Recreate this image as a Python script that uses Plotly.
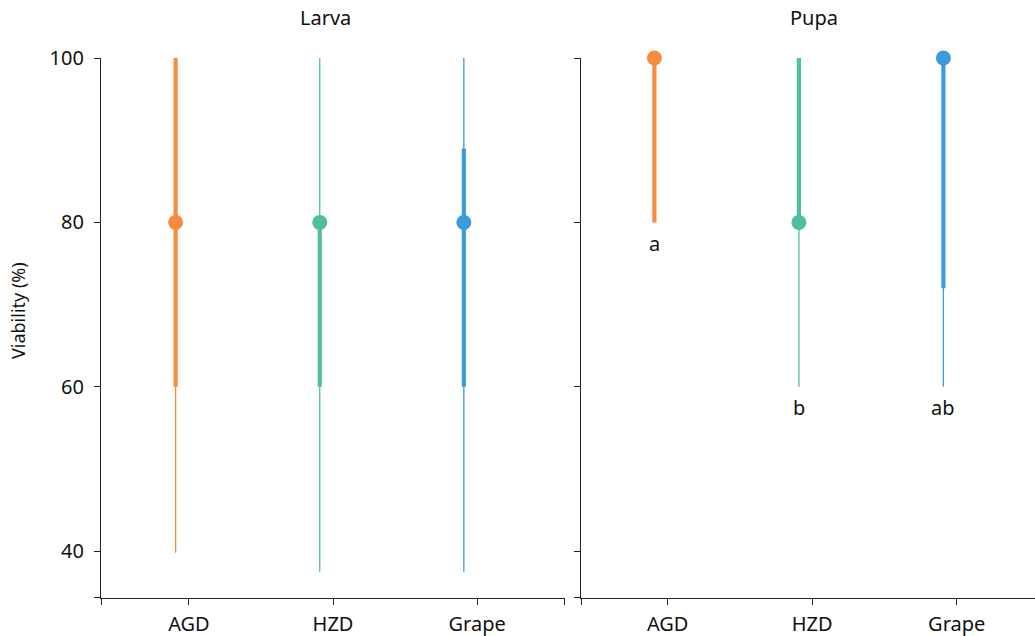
import plotly.graph_objects as go

categories = ["AGD", "HZD", "Grape"]
colors = ["#F58C3F", "#52BEA1", "#3C9CDB"]

# Larva stage: min, q1, median, q3, max
larva_min = [39.8, 37.5, 37.5]
larva_q1 = [60, 60, 60]
larva_med = [80, 80, 80]
larva_q3 = [100, 80, 89]
larva_max = [100, 100, 100]

# Pupa stage
pupa_min = [80, 60, 60]
pupa_q1 = [80, 80, 72]
pupa_med = [100, 80, 100]
pupa_q3 = [100, 100, 100]
pupa_max = [100, 100, 100]
pupa_letters = ["a", "b", "ab"]

y_ticks = [40, 60, 80, 100]
y_range = [34.3, 100]
FONT = "Noto Sans"
FS = 20
DODGE = -0.092  # marks sit slightly left of the category tick

W, H = 1035, 636
fig = go.Figure()


def add_panel(xa, ya, mins, q1s, meds, q3s, maxs):
    for i, c in enumerate(categories):
        xp = i + DODGE
        fig.add_trace(go.Scatter(x=[xp, xp], y=[mins[i], maxs[i]], mode="lines",
                                 line=dict(color=colors[i], width=1.3),
                                 xaxis=xa, yaxis=ya, showlegend=False, cliponaxis=False,
                                 hoverinfo="skip"))
        fig.add_trace(go.Scatter(x=[xp, xp], y=[q1s[i], q3s[i]], mode="lines",
                                 line=dict(color=colors[i], width=4.2),
                                 xaxis=xa, yaxis=ya, showlegend=False, cliponaxis=False,
                                 hoverinfo="skip"))
        fig.add_trace(go.Scatter(x=[xp], y=[meds[i]], mode="markers",
                                 marker=dict(color=colors[i], size=15, line=dict(width=0)),
                                 xaxis=xa, yaxis=ya, showlegend=False, cliponaxis=False))


add_panel("x", "y", larva_min, larva_q1, larva_med, larva_q3, larva_max)
add_panel("x2", "y2", pupa_min, pupa_q1, pupa_med, pupa_q3, pupa_max)

for i, t in enumerate(pupa_letters):
    fig.add_annotation(x=i + DODGE, y=pupa_min[i], xref="x2", yref="y2", text=t, showarrow=False,
                       xanchor="center", yanchor="middle", yshift=-21,
                       font=dict(family=FONT, size=FS, color="#111"))

y_dom = [1 - 598 / H, 1 - 58 / H]
lx = [101 / W, 565 / W]
rx = [581 / W, 1.0]
xr_left = [-0.61, 2.61]
xr_right = [-0.6, 2 + (W - 956.7) / 144.5]

axis_common = dict(showgrid=False, zeroline=False, showline=True, linecolor="#222", linewidth=1.3,
                   ticks="outside", ticklen=6, tickwidth=1.3, tickcolor="#222", automargin=False,
                   tickfont=dict(family=FONT, size=FS, color="#111"))

fig.update_layout(
    width=W, height=H, margin=dict(l=0, r=0, t=0, b=0, autoexpand=False),
    paper_bgcolor="white", plot_bgcolor="white",
    font=dict(family=FONT, size=FS, color="#111"),
    xaxis=dict(domain=lx, range=xr_left, anchor="y",
               tickvals=[xr_left[0] + 0.001, 0, 1, 2, xr_left[1] - 0.001],
               ticktext=["", *categories, ""], ticklabelstandoff=2, **axis_common),
    yaxis=dict(domain=y_dom, range=y_range, anchor="x",
               tickvals=[y_range[0] + 0.01, *y_ticks], ticktext=["", *[str(v) for v in y_ticks]],
               ticklabelstandoff=6, **axis_common),
    xaxis2=dict(domain=rx, range=xr_right, anchor="y2",
                tickvals=[xr_right[0] + 0.001, 0, 1, 2],
                ticktext=["", *categories], ticklabelstandoff=2, **axis_common),
    yaxis2=dict(domain=y_dom, range=y_range, anchor="x2",
                tickvals=[y_range[0] + 0.01, *y_ticks], showticklabels=False, **axis_common),
)

fig.add_annotation(x=18 / W, y=1 - 311 / H, xref="paper", yref="paper", text="Viability (%)",
                   showarrow=False, textangle=-90, xanchor="center", yanchor="middle",
                   font=dict(family=FONT, size=18, color="#111"))
fig.add_annotation(x=325 / W, y=1 - 18 / H, xref="paper", yref="paper", text="Larva", showarrow=False,
                   xanchor="center", yanchor="middle", font=dict(family=FONT, size=FS, color="#111"))
fig.add_annotation(x=814 / W, y=1 - 18 / H, xref="paper", yref="paper", text="Pupa", showarrow=False,
                   xanchor="center", yanchor="middle", font=dict(family=FONT, size=FS, color="#111"))

fig.write_html("out.html", config={"displayModeBar": False},
               post_script="document.body.style.margin='0';document.body.style.overflow='hidden';")
